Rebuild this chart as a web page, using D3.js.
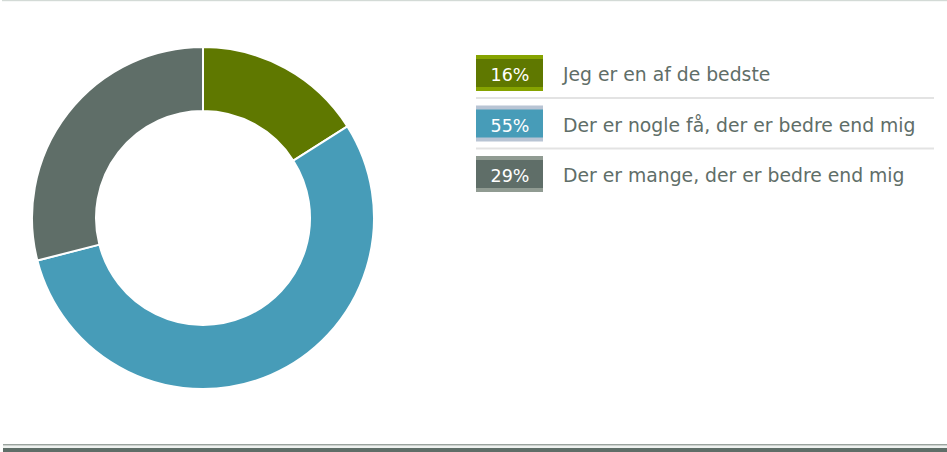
<!DOCTYPE html>
<html>
<head>
<meta charset="utf-8">
<script src="https://cdn.jsdelivr.net/npm/d3@7"></script>
<style>
  html, body { margin: 0; padding: 0; background: #fff; }
  svg { display: block; }
</style>
</head>
<body>
<svg id="chart" width="947" height="452"></svg>
<script>
// Survey answers and their shares (percent)
const categories = [
  "Jeg er en af de bedste",
  "Der er nogle få, der er bedre end mig",
  "Der er mange, der er bedre end mig"
];
const values = [16, 55, 29];
const sliceColors = ["#5f7800", "#479cb8", "#5f6e68"];
const bandColors = ["#86a300", "#b8c4d4", "#909b92"];

const svg = d3.select("#chart");
const font = "'DejaVu Sans', Verdana, sans-serif";

// Frame lines
svg.append("rect").attr("x", 2).attr("y", 0).attr("width", 945).attr("height", 1.2).attr("fill", "#d3dad6");
svg.append("rect").attr("x", 3).attr("y", 444).attr("width", 944).attr("height", 1.5).attr("fill", "#9aa39e");
svg.append("rect").attr("x", 3).attr("y", 446.5).attr("width", 944).attr("height", 1).attr("fill", "#dfe5e2");
svg.append("rect").attr("x", 3).attr("y", 448).attr("width", 944).attr("height", 4).attr("fill", "#5f6e68");

// Donut
const cx = 203, cy = 218, outerR = 171, innerR = 107;
const pie = d3.pie().sort(null).value(d => d)(values);
const arc = d3.arc().innerRadius(innerR).outerRadius(outerR);
svg.append("g")
  .attr("transform", `translate(${cx},${cy})`)
  .selectAll("path")
  .data(pie)
  .join("path")
  .attr("d", arc)
  .attr("fill", (d, i) => sliceColors[i])
  .attr("stroke", "#fff")
  .attr("stroke-width", 2)
  .attr("stroke-linejoin", "round");

// Legend
const lx = 476, ly = 55, rowH = 50.5, swW = 67, swH = 36, band = 4;
const legend = svg.append("g");
categories.forEach((c, i) => {
  const y = ly + i * rowH;
  const g = legend.append("g").attr("transform", `translate(${lx},${y})`);
  g.append("rect").attr("width", swW).attr("height", swH).attr("fill", bandColors[i]);
  g.append("rect").attr("y", band).attr("width", swW).attr("height", swH - 2 * band).attr("fill", sliceColors[i]);
  g.append("text")
    .attr("x", swW / 2 + 0.5).attr("y", 26)
    .attr("text-anchor", "middle")
    .attr("font-family", font).attr("font-size", 17.5)
    .attr("fill", "#fff")
    .text(values[i] + "%");
  g.append("text")
    .attr("x", 87).attr("y", 26)
    .attr("font-family", font).attr("font-size", 18.8)
    .attr("fill", "#5f6e68")
    .text(c);
  if (i < categories.length - 1) {
    g.append("rect").attr("x", 0).attr("y", 42).attr("width", 458).attr("height", 2).attr("fill", "#e3e3e3");
  }
});
</script>
</body>
</html>
